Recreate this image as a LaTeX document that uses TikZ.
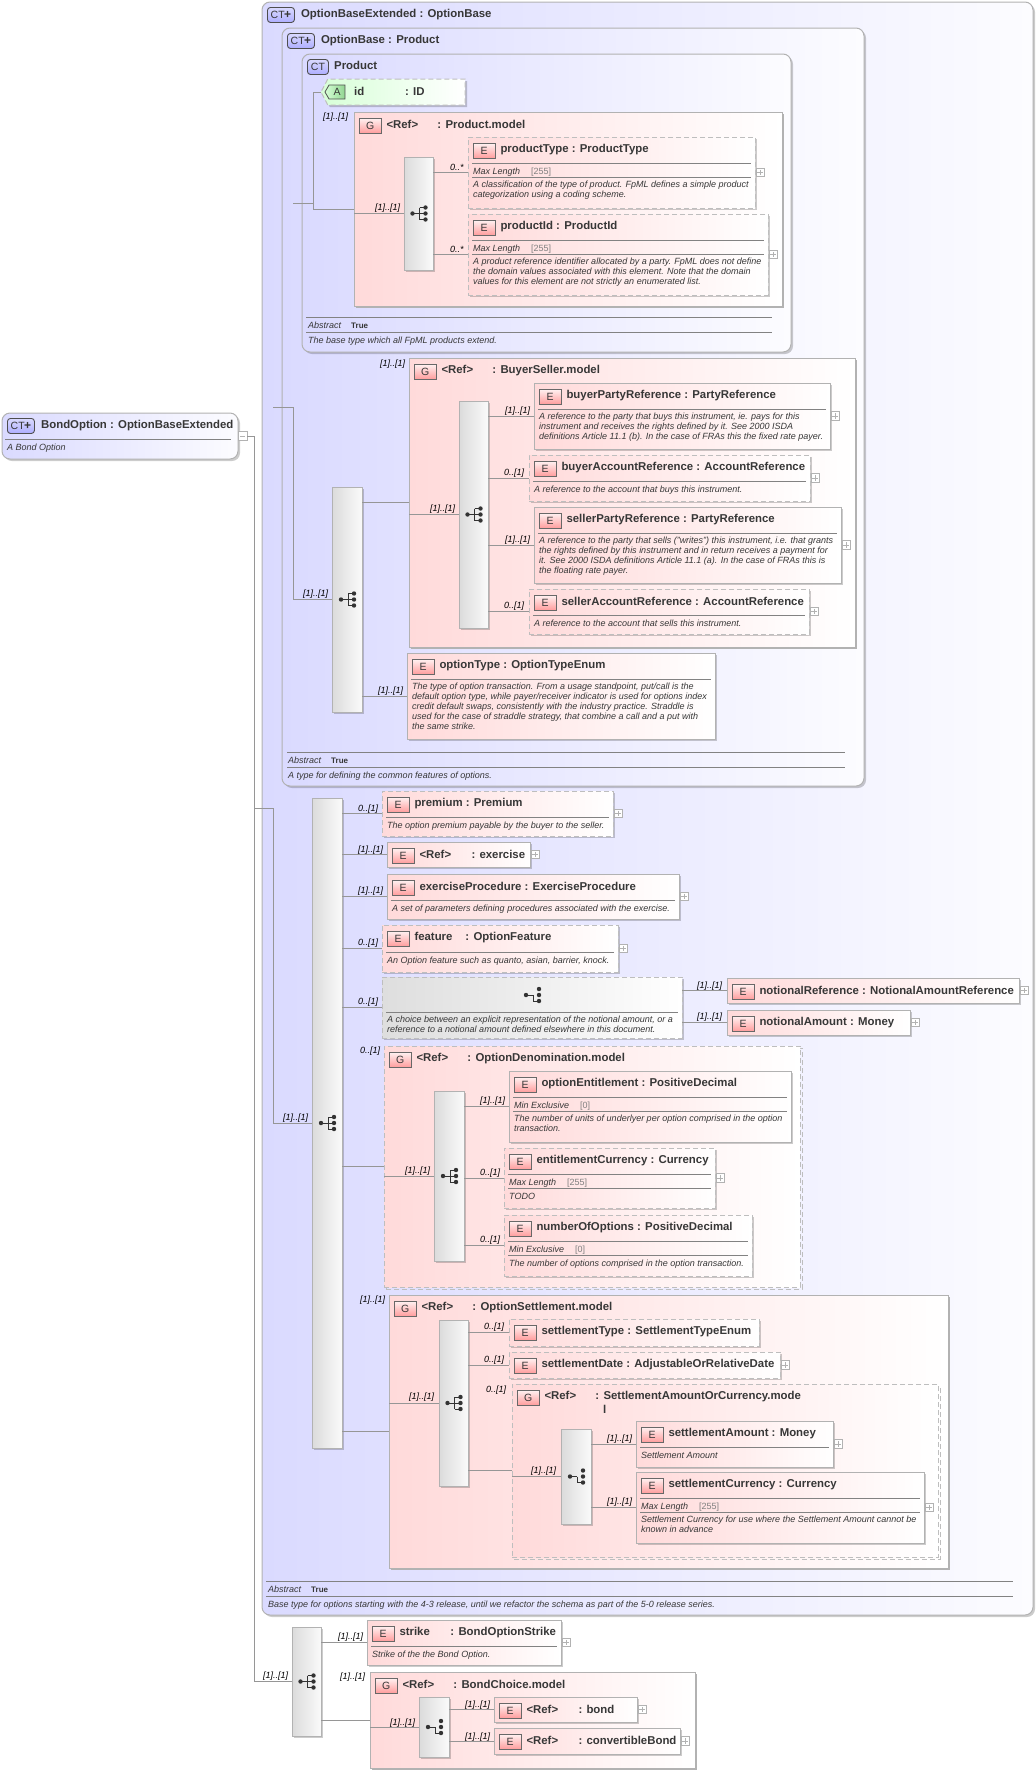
\documentclass[tikz,border=0pt]{standalone}
\usepackage{fontspec}
\setmainfont{Liberation Sans}
\usetikzlibrary{shadows,shapes.symbols}
\definecolor{boxgray}{RGB}{178,178,178}
\definecolor{dashgray}{RGB}{190,190,190}
\definecolor{linegray}{RGB}{150,150,150}
\definecolor{sepgray}{RGB}{130,130,130}
\definecolor{txtgray}{RGB}{55,55,55}
\definecolor{pinkl}{RGB}{255,218,218}
\definecolor{lavl}{RGB}{218,218,255}
\definecolor{lavr}{RGB}{252,252,255}
\definecolor{greenl}{RGB}{215,255,215}
\newcommand{\headfont}{\fontsize{11.4}{12}\selectfont\bfseries}
\newcommand{\docfont}{\fontsize{9}{10}\selectfont\itshape}
\newcommand{\badgefont}{\fontsize{10.5}{11}\selectfont}
\tikzset{
  boxbase/.style={anchor=north west,inner sep=0pt,outer sep=0pt,draw=boxgray,line width=1pt},
  dashline/.style={draw=dashgray,dash pattern=on 5pt off 3pt},
  shadowbox/.style={drop shadow={shadow xshift=2pt,shadow yshift=-2pt,opacity=0.2,fill=black}},
  solidel/.style={boxbase,left color=pinkl,right color=white,shadowbox},
  dashel/.style={solidel,dashline},
  solidgrp/.style={boxbase,left color=pinkl,right color=white,drop shadow={shadow xshift=2pt,shadow yshift=-2pt,opacity=1,fill=boxgray}},
  dashgrp/.style={boxbase,left color=pinkl,right color=white,dashline,general shadow={shadow xshift=2pt,shadow yshift=-2pt,dashline,line width=1pt}},
  ctbox/.style={boxbase,rounded corners=8pt,left color=lavl,right color=lavr,shadowbox},
  attrbox/.style={anchor=west,inner sep=0pt,outer sep=0pt,line width=1pt,dashline,signal,signal to=west,signal pointer angle=125,left color=greenl,right color=white,shadowbox},
  barbox/.style={boxbase,left color=gray!28,right color=gray!4,shadowbox},
  choicebox/.style={boxbase,dashline,left color=gray!26,right color=white,shadowbox},
  badgeE/.style={anchor=north west,draw=sepgray!80!black,line width=.8pt,inner sep=0pt,minimum width=21.5pt,minimum height=14.5pt,top color=pinkl!40,bottom color=red!38,text=txtgray,font=\badgefont},
  badgeCT/.style={anchor=north west,draw=sepgray!60!black,line width=.9pt,rounded corners=3pt,inner sep=0pt,minimum width=27pt,minimum height=15pt,top color=lavl,bottom color=blue!32,text=txtgray,font=\badgefont},
  badgeA/.style={anchor=center,draw=sepgray!60!black,line width=.8pt,inner sep=0pt,signal,signal to=west,signal pointer angle=120,minimum width=20pt,minimum height=14pt,left color=greenl,right color=green!45!gray!60,text=txtgray,font=\badgefont},
  headtext/.style={anchor=west,inner sep=0pt,text=txtgray,font=\headfont},
  doctext/.style={anchor=north west,inner sep=0pt,align=left,text=txtgray,font=\docfont,execute at begin node=\strut},
  card/.style={anchor=west,inner sep=0pt,yshift=-1pt,text=black,font=\docfont},
  sepline/.style={draw=sepgray,line width=.7pt},
  conn/.style={draw=linegray,line width=.8pt},
  plusbox/.style={anchor=west,draw=boxgray,line width=.7pt,fill=white,minimum size=8.5pt,inner sep=0pt,
    path picture={\draw[boxgray,line width=.6pt] ([yshift=-1.5pt]path picture bounding box.north) -- ([yshift=1.5pt]path picture bounding box.south) ([xshift=1.5pt]path picture bounding box.west) -- ([xshift=-1.5pt]path picture bounding box.east);}},
  minusbox/.style={plusbox,path picture={\draw[boxgray,line width=.6pt] ([xshift=1.5pt]path picture bounding box.west) -- ([xshift=-1.5pt]path picture bounding box.east);}},
  seqmark/.pic={
    \draw[gray!40!black,line width=.8pt] (-6,0) -- (1,0) (1,-6) -- (1,6) (1,-6) -- (7,-6) (1,0) -- (7,0) (1,6) -- (7,6);
    \fill[gray!40!black] (-6,0) circle [radius=2.2] (7,-6) circle [radius=2.2] (7,0) circle [radius=2.2] (7,6) circle [radius=2.2];},
  chcmark/.pic={
    \draw[gray!40!black,line width=.8pt] (-6,0) -- (1,0) (1,0) -- (1,6) -- (7,6);
    \fill[gray!40!black] (-6,0) circle [radius=2.2] (7,-6) circle [radius=2.2] (7,0) circle [radius=2.2] (7,6) circle [radius=2.2];}
}
\newcommand{\ebox}[6]{\node[#1,minimum width={#5pt-#3pt},minimum height={#6pt-#4pt}] (#2) at (#3,#4) {};}
\newcommand{\ehead}[3]{\node[badgeE] (#1-b) at ([shift={(5,6)}]#1.north west) {#2};
  \node[headtext] (#1-t) at ([shift={(5,-.8)}]#1-b.east) {#3};}
\newcommand{\cthead}[3]{\node[badgeCT] (#1-b) at ([shift={(5,5)}]#1.north west) {#2};
  \node[headtext] (#1-t) at ([shift={(6,-.8)}]#1-b.east) {#3};}
\newcommand{\element}[7]{\ebox{#1}{#2}{#3}{#4}{#5}{#6}\ehead{#2}{E}{#7}}
\newcommand{\grp}[7]{\ebox{#1}{#2}{#3}{#4}{#5}{#6}\ehead{#2}{G}{\makebox[51pt][l]{<Ref>}#7}}
\newcommand{\esep}[2]{\draw[sepline] ([xshift=4pt]#1.west |- 0,#2) -- ([xshift=-4pt]#1.east |- 0,#2);}
\newcommand{\edoc}[3]{\node[doctext] (#1-d) at ([shift={(5,-3.8)}]#1.west |- 0,#2) {#3};}
\newcommand{\efacet}[4]{\node[doctext] (#1-f) at ([shift={(5,-3.8)}]#1.west |- 0,#2) {\makebox[#4][l]{#3}};}
\newcommand{\eplus}[1]{\node[plusbox] (#1-p) at ([xshift=.5pt]#1.east) {};}
\newcommand{\maxlen}{\makebox[58pt][l]{Max Length}{\upshape\color{gray}[255]}}
\newcommand{\minexc}{\makebox[66pt][l]{Min Exclusive}{\upshape\color{gray}[0]}}
\newcommand{\abstrue}{\makebox[43pt][l]{Abstract}{\upshape\bfseries\fontsize{8}{10}\selectfont True}}
\newcommand{\ctmark}{CT{\fontsize{12}{11}\selectfont\bfseries\kern-.5pt+}}
\begin{document}
\begin{tikzpicture}[x=1pt,y=-1pt]
\useasboundingbox (0,0) rectangle (1036,1775);
\ebox{ctbox}{bondOpt}{2}{413}{238}{459}
\cthead{bondOpt}{\ctmark}{BondOption : OptionBaseExtended}
\draw[sepline] (5,439) -- (231,439);
\node[doctext] (bondOpt-d) at (7,443.2) {A Bond Option};
\node[minusbox] (bondOpt-p) at (bondOpt.east) {};
\ebox{ctbox}{obe}{262}{2}{1033}{1615}
\cthead{obe}{\ctmark}{OptionBaseExtended : OptionBase}
\ebox{ctbox}{obase}{282}{28}{864}{786}
\cthead{obase}{\ctmark}{OptionBase : Product}
\ebox{ctbox}{prod}{302}{54}{791}{352}
\node[badgeCT,minimum width=21pt] (prod-b) at (307,59) {CT};
\node[headtext] (prod-t) at (334,65.7) {Product};
\node[attrbox,minimum width=144pt,minimum height=26pt] (idAttr) at (321,92) {};
\node[badgeA] (idAttr-b) at (337,92) {A};
\node[headtext] (idAttr-t) at (354,91) {\makebox[51pt][l]{id}: ID};
\grp{solidgrp}{pmodel}{354}{112}{782}{306}{: Product.model}
\ebox{barbox}{barPM}{404}{157}{433}{270}
\pic at (barPM.center) {seqmark};
\element{dashel}{pType}{468}{137}{755}{208}{productType : ProductType}
\esep{pType}{163} \efacet{pType}{171}{\maxlen}{280pt} \esep{pType}{177}
\edoc{pType}{185}{A classification of the type of product. FpML defines a simple product\\categorization using a coding scheme.}
\eplus{pType}
\element{dashel}{pId}{468}{214}{768}{295}{productId : ProductId}
\esep{pId}{240} \efacet{pId}{248}{\maxlen}{280pt} \esep{pId}{254}
\edoc{pId}{262}{A product reference identifier allocated by a party. FpML does not define\\the domain values associated with this element. Note that the domain\\values for this element are not strictly an enumerated list.}
\eplus{pId}
\draw[sepline] (306,317) -- (772,317);
\draw[sepline] (306,332) -- (772,332);
\node[doctext] (prod-f) at (308,321.2) {\abstrue};
\node[doctext] (prod-d) at (308,336.2) {The base type which all FpML products extend.};
\ebox{barbox}{barOB}{332}{487}{362}{712}
\pic at (barOB.center) {seqmark};
\grp{solidgrp}{bsmodel}{409}{358}{855}{647}{: BuyerSeller.model}
\ebox{barbox}{barBS}{459}{401}{488}{628}
\pic at (barBS.center) {seqmark};
\element{solidel}{buyP}{534}{383}{830}{449}{buyerPartyReference : PartyReference}
\esep{buyP}{409}
\edoc{buyP}{417}{A reference to the party that buys this instrument, ie. pays for this\\instrument and receives the rights defined by it. See 2000 ISDA\\definitions Article 11.1 (b). In the case of FRAs this the fixed rate payer.}
\eplus{buyP}
\element{dashel}{buyA}{529}{455}{810}{501}{buyerAccountReference : AccountReference}
\esep{buyA}{481}
\edoc{buyA}{489}{A reference to the account that buys this instrument.}
\eplus{buyA}
\element{solidel}{sellP}{534}{507}{841}{583}{sellerPartyReference : PartyReference}
\esep{sellP}{533}
\edoc{sellP}{541}{A reference to the party that sells ("writes") this instrument, i.e. that grants\\the rights defined by this instrument and in return receives a payment for\\it. See 2000 ISDA definitions Article 11.1 (a). In the case of FRAs this is\\the floating rate payer.}
\eplus{sellP}
\element{dashel}{sellA}{529}{589}{809}{634}{sellerAccountReference : AccountReference}
\esep{sellA}{615}
\edoc{sellA}{623}{A reference to the account that sells this instrument.}
\eplus{sellA}
\element{solidel}{optType}{407}{653}{715}{739}{optionType : OptionTypeEnum}
\esep{optType}{679}
\edoc{optType}{687}{The type of option transaction. From a usage standpoint, put/call is the\\default option type, while payer/receiver indicator is used for options index\\credit default swaps, consistently with the industry practice. Straddle is\\used for the case of straddle strategy, that combine a call and a put with\\the same strike.}
\draw[sepline] (287,752) -- (845,752);
\draw[sepline] (287,767) -- (845,767);
\node[doctext] (obase-f) at (288,756.2) {\abstrue};
\node[doctext] (obase-d) at (288,771.2) {A type for defining the common features of options.};
\ebox{barbox}{barOpt}{312}{798}{342}{1448}
\pic at (barOpt.center) {seqmark};
\element{dashel}{prem}{382}{791}{613}{836}{premium : Premium}
\esep{prem}{817}
\edoc{prem}{825}{The option premium payable by the buyer to the seller.}
\eplus{prem}
\element{solidel}{exer}{387}{842}{530}{867}{\makebox[52pt][l]{<Ref>}: exercise}
\eplus{exer}
\element{solidel}{exProc}{387}{874}{679}{919}{exerciseProcedure : ExerciseProcedure}
\esep{exProc}{900}
\edoc{exProc}{908}{A set of parameters defining procedures associated with the exercise.}
\eplus{exProc}
\element{dashel}{feat}{382}{925}{618}{972}{\makebox[51pt][l]{feature}: OptionFeature}
\esep{feat}{952}
\edoc{feat}{960}{An Option feature such as quanto, asian, barrier, knock.}
\eplus{feat}
\ebox{choicebox}{chNot}{382}{977}{682}{1038}
\pic at (chNot.center |- 0,995) {chcmark};
\esep{chNot}{1012}
\edoc{chNot}{1020}{A choice between an explicit representation of the notional amount, or a\\reference to a notional amount defined elsewhere in this document.}
\element{solidel}{notRef}{727}{978}{1019}{1003}{notionalReference : NotionalAmountReference}
\eplus{notRef}
\element{solidel}{notAmt}{727}{1010}{910}{1035}{notionalAmount : Money}
\eplus{notAmt}
\grp{dashgrp}{odmodel}{384}{1046}{800}{1287}{: OptionDenomination.model}
\ebox{barbox}{barOD}{434}{1091}{464}{1261}
\pic at (barOD.center) {seqmark};
\element{solidel}{optEnt}{509}{1071}{791}{1142}{optionEntitlement : PositiveDecimal}
\esep{optEnt}{1097} \efacet{optEnt}{1105}{\minexc}{270pt} \esep{optEnt}{1111}
\edoc{optEnt}{1119}{The number of units of underlyer per option comprised in the option\\transaction.}
\element{dashel}{entCur}{504}{1148}{715}{1208}{entitlementCurrency : Currency}
\esep{entCur}{1174} \efacet{entCur}{1182}{\maxlen}{190pt} \esep{entCur}{1188}
\edoc{entCur}{1196}{TODO}
\eplus{entCur}
\element{dashel}{numOpt}{504}{1215}{752}{1276}{numberOfOptions : PositiveDecimal}
\esep{numOpt}{1241} \efacet{numOpt}{1249}{\minexc}{230pt} \esep{numOpt}{1255}
\edoc{numOpt}{1263}{The number of options comprised in the option transaction.}
\grp{solidgrp}{osmodel}{389}{1295}{948}{1568}{: OptionSettlement.model}
\ebox{barbox}{barOS}{439}{1320}{468}{1486}
\pic at (barOS.center) {seqmark};
\element{dashel}{setType}{509}{1319}{759}{1346}{settlementType : SettlementTypeEnum}
\element{dashel}{setDate}{509}{1352}{780}{1378}{settlementDate : AdjustableOrRelativeDate}
\eplus{setDate}
\grp{dashgrp}{samodel}{512}{1384}{938}{1557}{: SettlementAmountOrCurrency.mode}
\node[headtext] (samodel-l) at (603,1409) {l};
\ebox{barbox}{barSA}{561}{1429}{591}{1524}
\pic at (barSA.center) {chcmark};
\element{solidel}{setAmt}{636}{1421}{833}{1467}{settlementAmount : Money}
\esep{setAmt}{1447}
\edoc{setAmt}{1455}{Settlement Amount}
\eplus{setAmt}
\element{solidel}{setCur}{636}{1472}{924}{1543}{settlementCurrency : Currency}
\esep{setCur}{1498} \efacet{setCur}{1506}{\maxlen}{270pt} \esep{setCur}{1512}
\edoc{setCur}{1520}{Settlement Currency for use where the Settlement Amount cannot be\\known in advance}
\eplus{setCur}
\draw[sepline] (266,1581) -- (1013,1581);
\draw[sepline] (266,1596) -- (1013,1596);
\node[doctext] (obe-f) at (268,1585.2) {\abstrue};
\node[doctext] (obe-d) at (268,1600.2) {Base type for options starting with the 4-3 release, until we refactor the schema as part of the 5-0 release series.};
\ebox{barbox}{barSt}{292}{1627}{321}{1736}
\pic at (barSt.center) {seqmark};
\element{solidel}{strike}{367}{1620}{561}{1665}{\makebox[51pt][l]{strike}: BondOptionStrike}
\esep{strike}{1646}
\edoc{strike}{1654}{Strike of the the Bond Option.}
\eplus{strike}
\grp{solidgrp}{bcmodel}{370}{1672}{695}{1768}{: BondChoice.model}
\ebox{barbox}{barBC}{419}{1697}{449}{1757}
\pic at (barBC.center) {chcmark};
\element{solidel}{bond}{494}{1697}{637}{1722}{\makebox[52pt][l]{<Ref>}: bond}
\eplus{bond}
\element{solidel}{cBond}{494}{1728}{680}{1754}{\makebox[52pt][l]{<Ref>}: convertibleBond}
\eplus{cBond}
\coordinate (busRoot) at (254,0);
\coordinate (busObe) at (273,0);
\coordinate (busBase) at (293,0);
\coordinate (busProd) at (313,0);
\draw[conn] (bondOpt-p.east) -- (busRoot |- bondOpt-p.east) -- (busRoot |- barSt.west) -- (barSt.west);
\draw[conn] (busRoot |- obe.west) -- (busObe |- obe.west) -- (busObe |- barOpt.west) -- (barOpt.west);
\draw[conn] (busObe |- obase.west) -- (busBase |- obase.west) -- (busBase |- barOB.west) -- (barOB.west);
\draw[conn] (busBase |- prod.west) -- (busProd |- prod.west);
\draw[conn] (idAttr.west) -- (busProd |- idAttr.west) -- (busProd |- pmodel.west) -- (pmodel.west);
\draw[conn] (pmodel.west |- barPM.west) -- (barPM.west);
\draw[conn] (barPM.east |- pType.west) -- (pType.west);
\draw[conn] (barPM.east |- pId.west) -- (pId.west);
\draw[conn] (barOB.east |- bsmodel.west) -- (bsmodel.west);
\draw[conn] (barOB.east |- optType.west) -- (optType.west);
\draw[conn] (bsmodel.west |- barBS.west) -- (barBS.west);
\draw[conn] (barBS.east |- buyP.west) -- (buyP.west);
\draw[conn] (barBS.east |- buyA.west) -- (buyA.west);
\draw[conn] (barBS.east |- sellP.west) -- (sellP.west);
\draw[conn] (barBS.east |- sellA.west) -- (sellA.west);
\draw[conn] (barOpt.east |- prem.west) -- (prem.west);
\draw[conn] (barOpt.east |- exer.west) -- (exer.west);
\draw[conn] (barOpt.east |- exProc.west) -- (exProc.west);
\draw[conn] (barOpt.east |- feat.west) -- (feat.west);
\draw[conn] (barOpt.east |- chNot.west) -- (chNot.west);
\draw[conn] (barOpt.east |- odmodel.west) -- (odmodel.west);
\draw[conn] (barOpt.east |- osmodel.west) -- (osmodel.west);
\draw[conn] (chNot.east |- notRef.west) -- (notRef.west);
\draw[conn] (chNot.east |- notAmt.west) -- (notAmt.west);
\draw[conn] (odmodel.west |- barOD.west) -- (barOD.west);
\draw[conn] (barOD.east |- optEnt.west) -- (optEnt.west);
\draw[conn] (barOD.east |- entCur.west) -- (entCur.west);
\draw[conn] (barOD.east |- numOpt.west) -- (numOpt.west);
\draw[conn] (osmodel.west |- barOS.west) -- (barOS.west);
\draw[conn] (barOS.east |- setType.west) -- (setType.west);
\draw[conn] (barOS.east |- setDate.west) -- (setDate.west);
\draw[conn] (barOS.east |- samodel.west) -- (samodel.west);
\draw[conn] (samodel.west |- barSA.west) -- (barSA.west);
\draw[conn] (barSA.east |- setAmt.west) -- (setAmt.west);
\draw[conn] (barSA.east |- setCur.west) -- (setCur.west);
\draw[conn] (barSt.east |- strike.west) -- (strike.west);
\draw[conn] (barSt.east |- bcmodel.west) -- (bcmodel.west);
\draw[conn] (bcmodel.west |- barBC.west) -- (barBC.west);
\draw[conn] (barBC.east |- bond.west) -- (bond.west);
\draw[conn] (barBC.east |- cBond.west) -- (cBond.west);
\node[card] (cProd) at (323,116) {[1]..[1]};
\node[card] (cPM) at (375,207) {[1]..[1]};
\node[card] (cPT) at (450,166) {0..*};
\node[card] (cPI) at (450,248) {0..*};
\node[card] (cBS) at (380,363) {[1]..[1]};
\node[card] (cOB) at (303,593) {[1]..[1]};
\node[card] (cBSi) at (430,508) {[1]..[1]};
\node[card] (cBP) at (505,410) {[1]..[1]};
\node[card] (cBA) at (504,472) {0..[1]};
\node[card] (cSP) at (505,539) {[1]..[1]};
\node[card] (cSA) at (504,605) {0..[1]};
\node[card] (cOT) at (378,690) {[1]..[1]};
\node[card] (cOpt) at (283,1117) {[1]..[1]};
\node[card] (cPr) at (358,808) {0..[1]};
\node[card] (cEx) at (358,849) {[1]..[1]};
\node[card] (cEP) at (358,890) {[1]..[1]};
\node[card] (cFe) at (358,942) {0..[1]};
\node[card] (cCh) at (358,1001) {0..[1]};
\node[card] (cNR) at (697,985) {[1]..[1]};
\node[card] (cNA) at (697,1016) {[1]..[1]};
\node[card] (cOD) at (360,1050) {0..[1]};
\node[card] (cODi) at (405,1170) {[1]..[1]};
\node[card] (cOE) at (480,1100) {[1]..[1]};
\node[card] (cEC) at (480,1172) {0..[1]};
\node[card] (cNO) at (480,1239) {0..[1]};
\node[card] (cOS) at (360,1299) {[1]..[1]};
\node[card] (cOSi) at (409,1396) {[1]..[1]};
\node[card] (cST) at (484,1326) {0..[1]};
\node[card] (cSD) at (484,1359) {0..[1]};
\node[card] (cSAm) at (486,1389) {0..[1]};
\node[card] (cSAi) at (531,1470) {[1]..[1]};
\node[card] (cSm) at (607,1438) {[1]..[1]};
\node[card] (cSc) at (607,1501) {[1]..[1]};
\node[card] (cRoot) at (263,1675) {[1]..[1]};
\node[card] (cSt) at (338,1636) {[1]..[1]};
\node[card] (cBC) at (340,1676) {[1]..[1]};
\node[card] (cBCi) at (390,1722) {[1]..[1]};
\node[card] (cBo) at (465,1704) {[1]..[1]};
\node[card] (cCB) at (465,1736) {[1]..[1]};
\end{tikzpicture}
\end{document}
